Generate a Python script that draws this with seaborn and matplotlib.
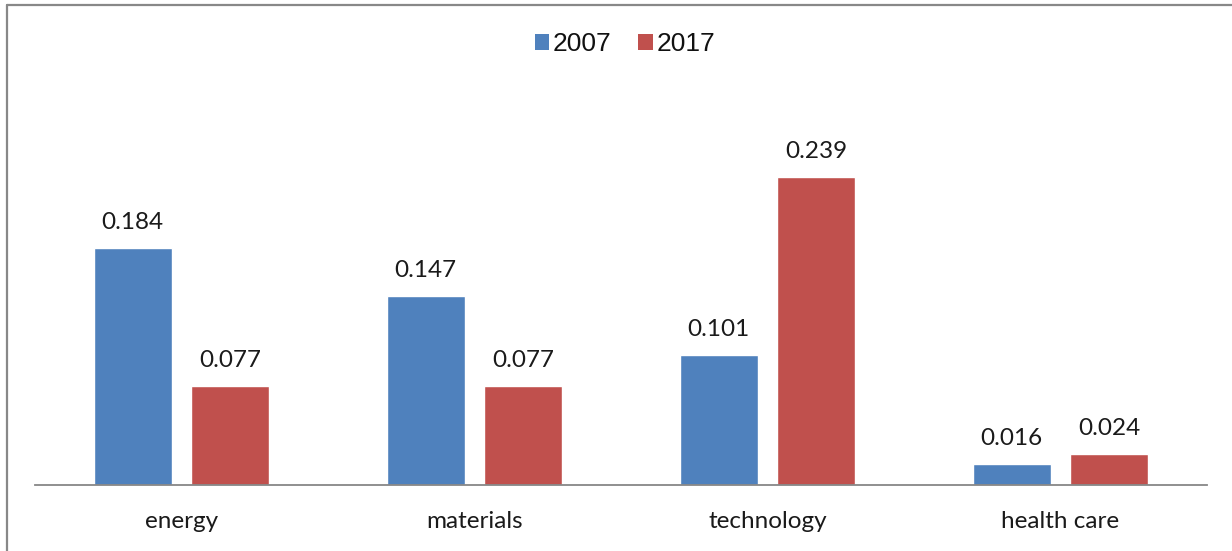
import matplotlib
matplotlib.use("Agg")
import matplotlib.pyplot as plt
import seaborn as sns
import pandas as pd
from matplotlib.lines import Line2D
from matplotlib.patches import Patch

categories = ["energy", "materials", "technology", "health care"]
years = ["2007", "2017"]
values_2007 = [0.184, 0.147, 0.101, 0.016]
values_2017 = [0.077, 0.077, 0.239, 0.024]
colors = ["#4F81BD", "#C0504D"]

df = pd.DataFrame({
    "category": categories * 2,
    "year": [years[0]] * 4 + [years[1]] * 4,
    "value": values_2007 + values_2017,
})

sns.set_theme(style="white")
plt.rcParams["font.family"] = ["Lato", "DejaVu Sans"]

W, H = 1232, 551
fig = plt.figure(figsize=(W / 100, H / 100), dpi=100)
ax = fig.add_axes([35 / W, (H - 485) / H, (1207 - 35) / W, (485 - 99) / H])

sns.barplot(data=df, x="category", y="value", hue="year", order=categories,
            hue_order=years, palette=colors, width=0.665, gap=0.2,
            saturation=1, ax=ax, legend=False)

ax.set_ylim(0, 0.3)
ax.set_xlim(-0.5, 3.5)
ax.set_xlabel("")
ax.set_ylabel("")
ax.set_yticks([])
for s in ["top", "right", "left"]:
    ax.spines[s].set_visible(False)
ax.spines["bottom"].set_color("#878787")
ax.spines["bottom"].set_linewidth(1.3)
ax.tick_params(axis="x", length=0, labelsize=17.5, colors="#1a1a1a", pad=19)

for cont in ax.containers:
    for bar in cont:
        h = bar.get_height()
        ax.annotate(f"{h:.3f}", (bar.get_x() + bar.get_width() / 2, h),
                    xytext=(0, 11), textcoords="offset points",
                    ha="center", va="bottom", fontsize=17.5, color="#1a1a1a")

handles = [Patch(facecolor=c, edgecolor="none") for c in colors]
leg = fig.legend(handles, years, loc="center", bbox_to_anchor=(625 / W, 1 - 44 / H),
                 ncol=2, frameon=False, handlelength=0.55, handleheight=0.55,
                 handletextpad=0.15, columnspacing=1.0, fontsize=19)
for t in leg.get_texts():
    t.set_fontfamily(["Liberation Sans", "DejaVu Sans"])
    t.set_color("#111111")

# outer chart border (top and left visible)
fig.add_artist(Line2D([6.5 / W, 1.0], [1 - 4.5 / H, 1 - 4.5 / H],
                      transform=fig.transFigure, color="#888888", lw=1.6))
fig.add_artist(Line2D([6.5 / W, 6.5 / W], [0, 1 - 4.5 / H],
                      transform=fig.transFigure, color="#888888", lw=1.6))

fig.savefig("out.png", dpi=100, facecolor="white")
